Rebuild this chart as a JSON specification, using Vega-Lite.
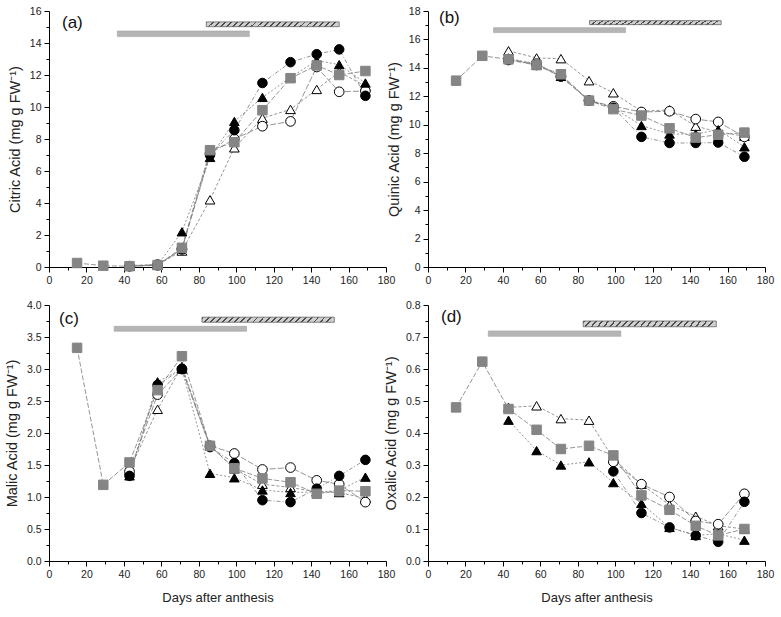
{
"$schema":"https://vega.github.io/schema/vega-lite/v6.json",
"padding":{"left":4,"top":6,"right":4,"bottom":4},
"background":"white",
"config":{"view":{"stroke":null},"font":"Liberation Sans",
 "axis":{"domainColor":"#000","tickColor":"#000","domainWidth":1,"tickWidth":1,"labelFontSize":10.5,"titleFontSize":14.5,"titleFontWeight":"normal","labelColor":"#222","titleColor":"#222","grid":false,"labelPadding":3,"titlePadding":7,"labelOverlap":false,"labelFlush":false},
 "title":{"anchor":"start","frame":"group","fontSize":17,"fontWeight":"normal","color":"#111","font":"Liberation Sans"}
},
"datasets":{
"bars":[
{"p":"a","k":"solid","d":36.5,"d2":107,"v2":14.4,"v":14.75},
{"p":"a","k":"hatch","d":84,"d2":155,"v2":15.02,"v":15.32},
{"p":"b","k":"solid","d":35,"d2":105.5,"v2":16.48,"v":16.83},
{"p":"b","k":"hatch","d":86.3,"d2":156.6,"v2":17.04,"v":17.32},
{"p":"c","k":"solid","d":34.8,"d2":105.5,"v2":3.59,"v":3.667},
{"p":"c","k":"hatch","d":81.7,"d2":152.4,"v2":3.73,"v":3.81},
{"p":"d","k":"solid","d":32.2,"d2":103,"v2":0.702,"v":0.719},
{"p":"d","k":"hatch","d":82.9,"d2":154,"v2":0.732,"v":0.75}
],
"pts":[
{"p":"a","s":"OT","d":43,"v":0.1},{"p":"a","s":"OT","d":58,"v":0.15},{"p":"a","s":"OT","d":71,"v":1.0},{"p":"a","s":"OT","d":86,"v":4.2},{"p":"a","s":"OT","d":99,"v":7.45},{"p":"a","s":"OT","d":114,"v":9.3},{"p":"a","s":"OT","d":129,"v":9.85},{"p":"a","s":"OT","d":143,"v":11.1},{"p":"a","s":"OT","d":155,"v":12.2},{"p":"a","s":"OT","d":169,"v":11.3},
{"p":"a","s":"OC","d":43,"v":0.05},{"p":"a","s":"OC","d":58,"v":0.15},{"p":"a","s":"OC","d":71,"v":1.1},{"p":"a","s":"OC","d":86,"v":7.1},{"p":"a","s":"OC","d":99,"v":8.0},{"p":"a","s":"OC","d":114,"v":8.8},{"p":"a","s":"OC","d":129,"v":9.1},{"p":"a","s":"OC","d":143,"v":12.5},{"p":"a","s":"OC","d":155,"v":10.95},{"p":"a","s":"OC","d":169,"v":11.0},
{"p":"a","s":"BT","d":43,"v":0.05},{"p":"a","s":"BT","d":58,"v":0.12},{"p":"a","s":"BT","d":71,"v":2.2},{"p":"a","s":"BT","d":86,"v":6.85},{"p":"a","s":"BT","d":99,"v":9.1},{"p":"a","s":"BT","d":114,"v":10.6},{"p":"a","s":"BT","d":129,"v":11.85},{"p":"a","s":"BT","d":143,"v":12.9},{"p":"a","s":"BT","d":155,"v":12.65},{"p":"a","s":"BT","d":169,"v":11.5},
{"p":"a","s":"BC","d":43,"v":0.05},{"p":"a","s":"BC","d":58,"v":0.1},{"p":"a","s":"BC","d":71,"v":1.15},{"p":"a","s":"BC","d":86,"v":7.0},{"p":"a","s":"BC","d":99,"v":8.55},{"p":"a","s":"BC","d":114,"v":11.5},{"p":"a","s":"BC","d":129,"v":12.8},{"p":"a","s":"BC","d":143,"v":13.3},{"p":"a","s":"BC","d":155,"v":13.6},{"p":"a","s":"BC","d":169,"v":10.7},
{"p":"a","s":"GS","d":15,"v":0.25},{"p":"a","s":"GS","d":29,"v":0.08},{"p":"a","s":"GS","d":43,"v":0.05},{"p":"a","s":"GS","d":58,"v":0.12},{"p":"a","s":"GS","d":71,"v":1.2},{"p":"a","s":"GS","d":86,"v":7.3},{"p":"a","s":"GS","d":99,"v":7.8},{"p":"a","s":"GS","d":114,"v":9.8},{"p":"a","s":"GS","d":129,"v":11.8},{"p":"a","s":"GS","d":143,"v":12.6},{"p":"a","s":"GS","d":155,"v":12.0},{"p":"a","s":"GS","d":169,"v":12.25},

{"p":"b","s":"OT","d":43,"v":15.2},{"p":"b","s":"OT","d":58,"v":14.7},{"p":"b","s":"OT","d":71,"v":14.65},{"p":"b","s":"OT","d":86,"v":13.1},{"p":"b","s":"OT","d":99,"v":12.25},{"p":"b","s":"OT","d":114,"v":10.95},{"p":"b","s":"OT","d":129,"v":11.05},{"p":"b","s":"OT","d":143,"v":9.9},{"p":"b","s":"OT","d":155,"v":9.5},{"p":"b","s":"OT","d":169,"v":9.2},
{"p":"b","s":"OC","d":43,"v":14.6},{"p":"b","s":"OC","d":58,"v":14.3},{"p":"b","s":"OC","d":71,"v":13.4},{"p":"b","s":"OC","d":86,"v":11.7},{"p":"b","s":"OC","d":99,"v":11.3},{"p":"b","s":"OC","d":114,"v":10.9},{"p":"b","s":"OC","d":129,"v":10.95},{"p":"b","s":"OC","d":143,"v":10.4},{"p":"b","s":"OC","d":155,"v":10.2},{"p":"b","s":"OC","d":169,"v":9.15},
{"p":"b","s":"BT","d":43,"v":14.7},{"p":"b","s":"BT","d":58,"v":14.2},{"p":"b","s":"BT","d":71,"v":13.4},{"p":"b","s":"BT","d":86,"v":11.75},{"p":"b","s":"BT","d":99,"v":11.2},{"p":"b","s":"BT","d":114,"v":9.95},{"p":"b","s":"BT","d":129,"v":9.35},{"p":"b","s":"BT","d":143,"v":9.35},{"p":"b","s":"BT","d":155,"v":9.65},{"p":"b","s":"BT","d":169,"v":8.45},
{"p":"b","s":"BC","d":43,"v":14.55},{"p":"b","s":"BC","d":58,"v":14.2},{"p":"b","s":"BC","d":71,"v":13.4},{"p":"b","s":"BC","d":86,"v":11.7},{"p":"b","s":"BC","d":99,"v":11.2},{"p":"b","s":"BC","d":114,"v":9.15},{"p":"b","s":"BC","d":129,"v":8.72},{"p":"b","s":"BC","d":143,"v":8.72},{"p":"b","s":"BC","d":155,"v":8.75},{"p":"b","s":"BC","d":169,"v":7.75},
{"p":"b","s":"GS","d":15,"v":13.1},{"p":"b","s":"GS","d":29,"v":14.85},{"p":"b","s":"GS","d":43,"v":14.6},{"p":"b","s":"GS","d":58,"v":14.2},{"p":"b","s":"GS","d":71,"v":13.55},{"p":"b","s":"GS","d":86,"v":11.7},{"p":"b","s":"GS","d":99,"v":11.1},{"p":"b","s":"GS","d":114,"v":10.65},{"p":"b","s":"GS","d":129,"v":9.75},{"p":"b","s":"GS","d":143,"v":9.1},{"p":"b","s":"GS","d":155,"v":9.3},{"p":"b","s":"GS","d":169,"v":9.45},

{"p":"c","s":"OT","d":43,"v":1.42},{"p":"c","s":"OT","d":58,"v":2.37},{"p":"c","s":"OT","d":71,"v":3.04},{"p":"c","s":"OT","d":86,"v":1.8},{"p":"c","s":"OT","d":99,"v":1.44},{"p":"c","s":"OT","d":114,"v":1.2},{"p":"c","s":"OT","d":129,"v":1.15},{"p":"c","s":"OT","d":143,"v":1.08},{"p":"c","s":"OT","d":155,"v":1.07},{"p":"c","s":"OT","d":169,"v":0.98},
{"p":"c","s":"OC","d":43,"v":1.4},{"p":"c","s":"OC","d":58,"v":2.6},{"p":"c","s":"OC","d":71,"v":3.0},{"p":"c","s":"OC","d":86,"v":1.8},{"p":"c","s":"OC","d":99,"v":1.68},{"p":"c","s":"OC","d":114,"v":1.43},{"p":"c","s":"OC","d":129,"v":1.46},{"p":"c","s":"OC","d":143,"v":1.26},{"p":"c","s":"OC","d":155,"v":1.2},{"p":"c","s":"OC","d":169,"v":0.92},
{"p":"c","s":"BT","d":43,"v":1.33},{"p":"c","s":"BT","d":58,"v":2.8},{"p":"c","s":"BT","d":71,"v":3.0},{"p":"c","s":"BT","d":86,"v":1.37},{"p":"c","s":"BT","d":99,"v":1.3},{"p":"c","s":"BT","d":114,"v":1.11},{"p":"c","s":"BT","d":129,"v":1.07},{"p":"c","s":"BT","d":143,"v":1.08},{"p":"c","s":"BT","d":155,"v":1.1},{"p":"c","s":"BT","d":169,"v":1.31},
{"p":"c","s":"BC","d":43,"v":1.33},{"p":"c","s":"BC","d":58,"v":2.75},{"p":"c","s":"BC","d":71,"v":3.0},{"p":"c","s":"BC","d":86,"v":1.78},{"p":"c","s":"BC","d":99,"v":1.53},{"p":"c","s":"BC","d":114,"v":0.95},{"p":"c","s":"BC","d":129,"v":0.92},{"p":"c","s":"BC","d":143,"v":1.13},{"p":"c","s":"BC","d":155,"v":1.33},{"p":"c","s":"BC","d":169,"v":1.58},
{"p":"c","s":"GS","d":15,"v":3.33},{"p":"c","s":"GS","d":29,"v":1.19},{"p":"c","s":"GS","d":43,"v":1.54},{"p":"c","s":"GS","d":58,"v":2.67},{"p":"c","s":"GS","d":71,"v":3.2},{"p":"c","s":"GS","d":86,"v":1.8},{"p":"c","s":"GS","d":99,"v":1.45},{"p":"c","s":"GS","d":114,"v":1.29},{"p":"c","s":"GS","d":129,"v":1.23},{"p":"c","s":"GS","d":143,"v":1.05},{"p":"c","s":"GS","d":155,"v":1.1},{"p":"c","s":"GS","d":169,"v":1.09},

{"p":"d","s":"OT","d":43,"v":0.48},{"p":"d","s":"OT","d":58,"v":0.485},{"p":"d","s":"OT","d":71,"v":0.445},{"p":"d","s":"OT","d":86,"v":0.44},{"p":"d","s":"OT","d":99,"v":0.32},{"p":"d","s":"OT","d":114,"v":0.24},{"p":"d","s":"OT","d":129,"v":0.175},{"p":"d","s":"OT","d":143,"v":0.14},{"p":"d","s":"OT","d":155,"v":0.11},{"p":"d","s":"OT","d":169,"v":0.1},
{"p":"d","s":"OC","d":99,"v":0.31},{"p":"d","s":"OC","d":114,"v":0.24},{"p":"d","s":"OC","d":129,"v":0.2},{"p":"d","s":"OC","d":143,"v":0.125},{"p":"d","s":"OC","d":155,"v":0.115},{"p":"d","s":"OC","d":169,"v":0.21},
{"p":"d","s":"BT","d":43,"v":0.44},{"p":"d","s":"BT","d":58,"v":0.345},{"p":"d","s":"BT","d":71,"v":0.3},{"p":"d","s":"BT","d":86,"v":0.31},{"p":"d","s":"BT","d":99,"v":0.245},{"p":"d","s":"BT","d":114,"v":0.18},{"p":"d","s":"BT","d":129,"v":0.105},{"p":"d","s":"BT","d":143,"v":0.08},{"p":"d","s":"BT","d":155,"v":0.085},{"p":"d","s":"BT","d":169,"v":0.065},
{"p":"d","s":"BC","d":99,"v":0.28},{"p":"d","s":"BC","d":114,"v":0.15},{"p":"d","s":"BC","d":129,"v":0.105},{"p":"d","s":"BC","d":143,"v":0.08},{"p":"d","s":"BC","d":155,"v":0.06},{"p":"d","s":"BC","d":169,"v":0.185},
{"p":"d","s":"GS","d":15,"v":0.48},{"p":"d","s":"GS","d":29,"v":0.623},{"p":"d","s":"GS","d":43,"v":0.475},{"p":"d","s":"GS","d":58,"v":0.41},{"p":"d","s":"GS","d":71,"v":0.35},{"p":"d","s":"GS","d":86,"v":0.36},{"p":"d","s":"GS","d":99,"v":0.33},{"p":"d","s":"GS","d":114,"v":0.205},{"p":"d","s":"GS","d":129,"v":0.16},{"p":"d","s":"GS","d":143,"v":0.11},{"p":"d","s":"GS","d":155,"v":0.08},{"p":"d","s":"GS","d":169,"v":0.1}
]
},
"columns":2,
"spacing":{"row":14,"column":-12},
"concat":[
{"width":337,"height":256,
 "title":{"text":"(a)","offset":-26,"dx":13},
 "encoding":{"x":{"field":"d","type":"quantitative","scale":{"domain":[0,180],"nice":false},
    "axis":{"title":null,"values":[0,10,20,30,40,50,60,70,80,90,100,110,120,130,140,150,160,170,180],"labelExpr":"datum.value % 20 === 0 ? datum.label : ''","tickSize":{"condition":{"test":"datum.value % 20 === 0","value":5},"value":3}}},
   "y":{"field":"v","type":"quantitative","scale":{"domain":[0,16],"nice":false},
    "axis":{"title":"Citric Acid (mg g FW⁻¹)","values":[0,1,2,3,4,5,6,7,8,9,10,11,12,13,14,15,16],"labelExpr":"datum.value % 2 === 0 ? datum.label : ''","tickSize":{"condition":{"test":"datum.value % 2 === 0","value":5},"value":3}}}},
 "layer":[
 {"data":{"name":"bars"},"transform":[{"filter":"datum.p==='a' && datum.k==='solid'"}],"mark":{"type":"rect","fill":"#b5b5b5","stroke":"#a3a3a3","strokeWidth":0.6},
  "encoding":{"x2":{"field":"d2"},"y2":{"field":"v2"}}},
 {"data":{"name":"bars"},"transform":[{"filter":"datum.p==='a' && datum.k==='hatch'"}],"mark":{"type":"rect","stroke":"#555","strokeWidth":0.7,"fill":{"gradient":"linear","x1":0,"y1":0,"x2":1,"y2":0.0376,"stops":[
{"offset":0,"color":"#4d4d4d"},{"offset":0.014,"color":"#4d4d4d"},{"offset":0.014,"color":"#d0d0d0"},
{"offset":0.046,"color":"#d0d0d0"},{"offset":0.046,"color":"#4d4d4d"},{"offset":0.06,"color":"#4d4d4d"},{"offset":0.06,"color":"#d0d0d0"},
{"offset":0.092,"color":"#d0d0d0"},{"offset":0.092,"color":"#4d4d4d"},{"offset":0.106,"color":"#4d4d4d"},{"offset":0.106,"color":"#d0d0d0"},
{"offset":0.138,"color":"#d0d0d0"},{"offset":0.138,"color":"#4d4d4d"},{"offset":0.152,"color":"#4d4d4d"},{"offset":0.152,"color":"#d0d0d0"},
{"offset":0.184,"color":"#d0d0d0"},{"offset":0.184,"color":"#4d4d4d"},{"offset":0.198,"color":"#4d4d4d"},{"offset":0.198,"color":"#d0d0d0"},
{"offset":0.23,"color":"#d0d0d0"},{"offset":0.23,"color":"#4d4d4d"},{"offset":0.244,"color":"#4d4d4d"},{"offset":0.244,"color":"#d0d0d0"},
{"offset":0.276,"color":"#d0d0d0"},{"offset":0.276,"color":"#4d4d4d"},{"offset":0.29,"color":"#4d4d4d"},{"offset":0.29,"color":"#d0d0d0"},
{"offset":0.322,"color":"#d0d0d0"},{"offset":0.322,"color":"#4d4d4d"},{"offset":0.336,"color":"#4d4d4d"},{"offset":0.336,"color":"#d0d0d0"},
{"offset":0.368,"color":"#d0d0d0"},{"offset":0.368,"color":"#4d4d4d"},{"offset":0.382,"color":"#4d4d4d"},{"offset":0.382,"color":"#d0d0d0"},
{"offset":0.414,"color":"#d0d0d0"},{"offset":0.414,"color":"#4d4d4d"},{"offset":0.428,"color":"#4d4d4d"},{"offset":0.428,"color":"#d0d0d0"},
{"offset":0.46,"color":"#d0d0d0"},{"offset":0.46,"color":"#4d4d4d"},{"offset":0.474,"color":"#4d4d4d"},{"offset":0.474,"color":"#d0d0d0"},
{"offset":0.506,"color":"#d0d0d0"},{"offset":0.506,"color":"#4d4d4d"},{"offset":0.52,"color":"#4d4d4d"},{"offset":0.52,"color":"#d0d0d0"},
{"offset":0.552,"color":"#d0d0d0"},{"offset":0.552,"color":"#4d4d4d"},{"offset":0.566,"color":"#4d4d4d"},{"offset":0.566,"color":"#d0d0d0"},
{"offset":0.598,"color":"#d0d0d0"},{"offset":0.598,"color":"#4d4d4d"},{"offset":0.612,"color":"#4d4d4d"},{"offset":0.612,"color":"#d0d0d0"},
{"offset":0.644,"color":"#d0d0d0"},{"offset":0.644,"color":"#4d4d4d"},{"offset":0.658,"color":"#4d4d4d"},{"offset":0.658,"color":"#d0d0d0"},
{"offset":0.69,"color":"#d0d0d0"},{"offset":0.69,"color":"#4d4d4d"},{"offset":0.704,"color":"#4d4d4d"},{"offset":0.704,"color":"#d0d0d0"},
{"offset":0.736,"color":"#d0d0d0"},{"offset":0.736,"color":"#4d4d4d"},{"offset":0.75,"color":"#4d4d4d"},{"offset":0.75,"color":"#d0d0d0"},
{"offset":0.782,"color":"#d0d0d0"},{"offset":0.782,"color":"#4d4d4d"},{"offset":0.796,"color":"#4d4d4d"},{"offset":0.796,"color":"#d0d0d0"},
{"offset":0.828,"color":"#d0d0d0"},{"offset":0.828,"color":"#4d4d4d"},{"offset":0.842,"color":"#4d4d4d"},{"offset":0.842,"color":"#d0d0d0"},
{"offset":0.874,"color":"#d0d0d0"},{"offset":0.874,"color":"#4d4d4d"},{"offset":0.888,"color":"#4d4d4d"},{"offset":0.888,"color":"#d0d0d0"},
{"offset":0.92,"color":"#d0d0d0"},{"offset":0.92,"color":"#4d4d4d"},{"offset":0.934,"color":"#4d4d4d"},{"offset":0.934,"color":"#d0d0d0"},
{"offset":0.966,"color":"#d0d0d0"},{"offset":0.966,"color":"#4d4d4d"},{"offset":0.98,"color":"#4d4d4d"},{"offset":0.98,"color":"#d0d0d0"},
{"offset":1,"color":"#d0d0d0"}]}},
  "encoding":{"x2":{"field":"d2"},"y2":{"field":"v2"}}},
 {"data":{"name":"pts"},"transform":[{"filter":"datum.p==='a'"}],"mark":{"type":"line","strokeWidth":0.8,"color":"#7a7a7a"},
  "encoding":{"detail":{"field":"s"},
   "strokeDash":{"field":"s","scale":{"domain":["OT","OC","BT","BC","GS"],"range":[[3,2],[6,2],[2,2],[4,2,1,2],[5,2]]},"legend":null}}},
 {"data":{"name":"pts"},"transform":[{"filter":"datum.p==='a'"}],"mark":{"type":"point","filled":true,"opacity":1,"strokeWidth":1},
  "encoding":{
   "shape":{"field":"s","scale":{"domain":["OT","OC","BT","BC","GS"],"range":["triangle-up","circle","triangle-up","circle","square"]},"legend":null},
   "size":{"field":"s","scale":{"domain":["OT","OC","BT","BC","GS"],"range":[95,90,95,90,70]},"legend":null},
   "fill":{"field":"s","scale":{"domain":["OT","OC","BT","BC","GS"],"range":["white","white","black","black","#858585"]},"legend":null},
   "stroke":{"field":"s","scale":{"domain":["OT","OC","BT","BC","GS"],"range":["black","black","black","black","#858585"]},"legend":null}}}
]},
{"width":337,"height":256,
 "title":{"text":"(b)","offset":-21,"dx":11},
 "encoding":{"x":{"field":"d","type":"quantitative","scale":{"domain":[0,180],"nice":false},
    "axis":{"title":null,"values":[0,10,20,30,40,50,60,70,80,90,100,110,120,130,140,150,160,170,180],"labelExpr":"datum.value % 20 === 0 ? datum.label : ''","tickSize":{"condition":{"test":"datum.value % 20 === 0","value":5},"value":3}}},
   "y":{"field":"v","type":"quantitative","scale":{"domain":[0,18],"nice":false},
    "axis":{"title":"Quinic Acid (mg g FW⁻¹)","values":[0,1,2,3,4,5,6,7,8,9,10,11,12,13,14,15,16,17,18],"labelExpr":"datum.value % 2 === 0 ? datum.label : ''","tickSize":{"condition":{"test":"datum.value % 2 === 0","value":5},"value":3}}}},
 "layer":[
 {"data":{"name":"bars"},"transform":[{"filter":"datum.p==='b' && datum.k==='solid'"}],"mark":{"type":"rect","fill":"#b5b5b5","stroke":"#a3a3a3","strokeWidth":0.6},
  "encoding":{"x2":{"field":"d2"},"y2":{"field":"v2"}}},
 {"data":{"name":"bars"},"transform":[{"filter":"datum.p==='b' && datum.k==='hatch'"}],"mark":{"type":"rect","stroke":"#555","strokeWidth":0.7,"fill":{"gradient":"linear","x1":0,"y1":0,"x2":1,"y2":0.0376,"stops":[
{"offset":0,"color":"#4d4d4d"},{"offset":0.014,"color":"#4d4d4d"},{"offset":0.014,"color":"#d0d0d0"},
{"offset":0.046,"color":"#d0d0d0"},{"offset":0.046,"color":"#4d4d4d"},{"offset":0.06,"color":"#4d4d4d"},{"offset":0.06,"color":"#d0d0d0"},
{"offset":0.092,"color":"#d0d0d0"},{"offset":0.092,"color":"#4d4d4d"},{"offset":0.106,"color":"#4d4d4d"},{"offset":0.106,"color":"#d0d0d0"},
{"offset":0.138,"color":"#d0d0d0"},{"offset":0.138,"color":"#4d4d4d"},{"offset":0.152,"color":"#4d4d4d"},{"offset":0.152,"color":"#d0d0d0"},
{"offset":0.184,"color":"#d0d0d0"},{"offset":0.184,"color":"#4d4d4d"},{"offset":0.198,"color":"#4d4d4d"},{"offset":0.198,"color":"#d0d0d0"},
{"offset":0.23,"color":"#d0d0d0"},{"offset":0.23,"color":"#4d4d4d"},{"offset":0.244,"color":"#4d4d4d"},{"offset":0.244,"color":"#d0d0d0"},
{"offset":0.276,"color":"#d0d0d0"},{"offset":0.276,"color":"#4d4d4d"},{"offset":0.29,"color":"#4d4d4d"},{"offset":0.29,"color":"#d0d0d0"},
{"offset":0.322,"color":"#d0d0d0"},{"offset":0.322,"color":"#4d4d4d"},{"offset":0.336,"color":"#4d4d4d"},{"offset":0.336,"color":"#d0d0d0"},
{"offset":0.368,"color":"#d0d0d0"},{"offset":0.368,"color":"#4d4d4d"},{"offset":0.382,"color":"#4d4d4d"},{"offset":0.382,"color":"#d0d0d0"},
{"offset":0.414,"color":"#d0d0d0"},{"offset":0.414,"color":"#4d4d4d"},{"offset":0.428,"color":"#4d4d4d"},{"offset":0.428,"color":"#d0d0d0"},
{"offset":0.46,"color":"#d0d0d0"},{"offset":0.46,"color":"#4d4d4d"},{"offset":0.474,"color":"#4d4d4d"},{"offset":0.474,"color":"#d0d0d0"},
{"offset":0.506,"color":"#d0d0d0"},{"offset":0.506,"color":"#4d4d4d"},{"offset":0.52,"color":"#4d4d4d"},{"offset":0.52,"color":"#d0d0d0"},
{"offset":0.552,"color":"#d0d0d0"},{"offset":0.552,"color":"#4d4d4d"},{"offset":0.566,"color":"#4d4d4d"},{"offset":0.566,"color":"#d0d0d0"},
{"offset":0.598,"color":"#d0d0d0"},{"offset":0.598,"color":"#4d4d4d"},{"offset":0.612,"color":"#4d4d4d"},{"offset":0.612,"color":"#d0d0d0"},
{"offset":0.644,"color":"#d0d0d0"},{"offset":0.644,"color":"#4d4d4d"},{"offset":0.658,"color":"#4d4d4d"},{"offset":0.658,"color":"#d0d0d0"},
{"offset":0.69,"color":"#d0d0d0"},{"offset":0.69,"color":"#4d4d4d"},{"offset":0.704,"color":"#4d4d4d"},{"offset":0.704,"color":"#d0d0d0"},
{"offset":0.736,"color":"#d0d0d0"},{"offset":0.736,"color":"#4d4d4d"},{"offset":0.75,"color":"#4d4d4d"},{"offset":0.75,"color":"#d0d0d0"},
{"offset":0.782,"color":"#d0d0d0"},{"offset":0.782,"color":"#4d4d4d"},{"offset":0.796,"color":"#4d4d4d"},{"offset":0.796,"color":"#d0d0d0"},
{"offset":0.828,"color":"#d0d0d0"},{"offset":0.828,"color":"#4d4d4d"},{"offset":0.842,"color":"#4d4d4d"},{"offset":0.842,"color":"#d0d0d0"},
{"offset":0.874,"color":"#d0d0d0"},{"offset":0.874,"color":"#4d4d4d"},{"offset":0.888,"color":"#4d4d4d"},{"offset":0.888,"color":"#d0d0d0"},
{"offset":0.92,"color":"#d0d0d0"},{"offset":0.92,"color":"#4d4d4d"},{"offset":0.934,"color":"#4d4d4d"},{"offset":0.934,"color":"#d0d0d0"},
{"offset":0.966,"color":"#d0d0d0"},{"offset":0.966,"color":"#4d4d4d"},{"offset":0.98,"color":"#4d4d4d"},{"offset":0.98,"color":"#d0d0d0"},
{"offset":1,"color":"#d0d0d0"}]}},
  "encoding":{"x2":{"field":"d2"},"y2":{"field":"v2"}}},
 {"data":{"name":"pts"},"transform":[{"filter":"datum.p==='b'"}],"mark":{"type":"line","strokeWidth":0.8,"color":"#7a7a7a"},
  "encoding":{"detail":{"field":"s"},
   "strokeDash":{"field":"s","scale":{"domain":["OT","OC","BT","BC","GS"],"range":[[3,2],[6,2],[2,2],[4,2,1,2],[5,2]]},"legend":null}}},
 {"data":{"name":"pts"},"transform":[{"filter":"datum.p==='b'"}],"mark":{"type":"point","filled":true,"opacity":1,"strokeWidth":1},
  "encoding":{
   "shape":{"field":"s","scale":{"domain":["OT","OC","BT","BC","GS"],"range":["triangle-up","circle","triangle-up","circle","square"]},"legend":null},
   "size":{"field":"s","scale":{"domain":["OT","OC","BT","BC","GS"],"range":[95,90,95,90,70]},"legend":null},
   "fill":{"field":"s","scale":{"domain":["OT","OC","BT","BC","GS"],"range":["white","white","black","black","#858585"]},"legend":null},
   "stroke":{"field":"s","scale":{"domain":["OT","OC","BT","BC","GS"],"range":["black","black","black","black","#858585"]},"legend":null}}}
]},
{"width":337,"height":256,
 "title":{"text":"(c)","offset":-28,"dx":10},
 "encoding":{"x":{"field":"d","type":"quantitative","scale":{"domain":[0,180],"nice":false},
    "axis":{"title":"Days after anthesis","titlePadding":12,"titleFontSize":13,"values":[0,10,20,30,40,50,60,70,80,90,100,110,120,130,140,150,160,170,180],"labelExpr":"datum.value % 20 === 0 ? datum.label : ''","tickSize":{"condition":{"test":"datum.value % 20 === 0","value":5},"value":3}}},
   "y":{"field":"v","type":"quantitative","scale":{"domain":[0,4],"nice":false},
    "axis":{"title":"Malic Acid (mg g FW⁻¹)","format":".1f","values":[0,0.25,0.5,0.75,1,1.25,1.5,1.75,2,2.25,2.5,2.75,3,3.25,3.5,3.75,4],"labelExpr":"abs(datum.value*2-round(datum.value*2))<1e-6 ? datum.label : ''","tickSize":{"condition":{"test":"abs(datum.value*2-round(datum.value*2))<1e-6","value":5},"value":3}}}},
 "layer":[
 {"data":{"name":"bars"},"transform":[{"filter":"datum.p==='c' && datum.k==='solid'"}],"mark":{"type":"rect","fill":"#b5b5b5","stroke":"#a3a3a3","strokeWidth":0.6},
  "encoding":{"x2":{"field":"d2"},"y2":{"field":"v2"}}},
 {"data":{"name":"bars"},"transform":[{"filter":"datum.p==='c' && datum.k==='hatch'"}],"mark":{"type":"rect","stroke":"#555","strokeWidth":0.7,"fill":{"gradient":"linear","x1":0,"y1":0,"x2":1,"y2":0.0376,"stops":[
{"offset":0,"color":"#4d4d4d"},{"offset":0.014,"color":"#4d4d4d"},{"offset":0.014,"color":"#d0d0d0"},
{"offset":0.046,"color":"#d0d0d0"},{"offset":0.046,"color":"#4d4d4d"},{"offset":0.06,"color":"#4d4d4d"},{"offset":0.06,"color":"#d0d0d0"},
{"offset":0.092,"color":"#d0d0d0"},{"offset":0.092,"color":"#4d4d4d"},{"offset":0.106,"color":"#4d4d4d"},{"offset":0.106,"color":"#d0d0d0"},
{"offset":0.138,"color":"#d0d0d0"},{"offset":0.138,"color":"#4d4d4d"},{"offset":0.152,"color":"#4d4d4d"},{"offset":0.152,"color":"#d0d0d0"},
{"offset":0.184,"color":"#d0d0d0"},{"offset":0.184,"color":"#4d4d4d"},{"offset":0.198,"color":"#4d4d4d"},{"offset":0.198,"color":"#d0d0d0"},
{"offset":0.23,"color":"#d0d0d0"},{"offset":0.23,"color":"#4d4d4d"},{"offset":0.244,"color":"#4d4d4d"},{"offset":0.244,"color":"#d0d0d0"},
{"offset":0.276,"color":"#d0d0d0"},{"offset":0.276,"color":"#4d4d4d"},{"offset":0.29,"color":"#4d4d4d"},{"offset":0.29,"color":"#d0d0d0"},
{"offset":0.322,"color":"#d0d0d0"},{"offset":0.322,"color":"#4d4d4d"},{"offset":0.336,"color":"#4d4d4d"},{"offset":0.336,"color":"#d0d0d0"},
{"offset":0.368,"color":"#d0d0d0"},{"offset":0.368,"color":"#4d4d4d"},{"offset":0.382,"color":"#4d4d4d"},{"offset":0.382,"color":"#d0d0d0"},
{"offset":0.414,"color":"#d0d0d0"},{"offset":0.414,"color":"#4d4d4d"},{"offset":0.428,"color":"#4d4d4d"},{"offset":0.428,"color":"#d0d0d0"},
{"offset":0.46,"color":"#d0d0d0"},{"offset":0.46,"color":"#4d4d4d"},{"offset":0.474,"color":"#4d4d4d"},{"offset":0.474,"color":"#d0d0d0"},
{"offset":0.506,"color":"#d0d0d0"},{"offset":0.506,"color":"#4d4d4d"},{"offset":0.52,"color":"#4d4d4d"},{"offset":0.52,"color":"#d0d0d0"},
{"offset":0.552,"color":"#d0d0d0"},{"offset":0.552,"color":"#4d4d4d"},{"offset":0.566,"color":"#4d4d4d"},{"offset":0.566,"color":"#d0d0d0"},
{"offset":0.598,"color":"#d0d0d0"},{"offset":0.598,"color":"#4d4d4d"},{"offset":0.612,"color":"#4d4d4d"},{"offset":0.612,"color":"#d0d0d0"},
{"offset":0.644,"color":"#d0d0d0"},{"offset":0.644,"color":"#4d4d4d"},{"offset":0.658,"color":"#4d4d4d"},{"offset":0.658,"color":"#d0d0d0"},
{"offset":0.69,"color":"#d0d0d0"},{"offset":0.69,"color":"#4d4d4d"},{"offset":0.704,"color":"#4d4d4d"},{"offset":0.704,"color":"#d0d0d0"},
{"offset":0.736,"color":"#d0d0d0"},{"offset":0.736,"color":"#4d4d4d"},{"offset":0.75,"color":"#4d4d4d"},{"offset":0.75,"color":"#d0d0d0"},
{"offset":0.782,"color":"#d0d0d0"},{"offset":0.782,"color":"#4d4d4d"},{"offset":0.796,"color":"#4d4d4d"},{"offset":0.796,"color":"#d0d0d0"},
{"offset":0.828,"color":"#d0d0d0"},{"offset":0.828,"color":"#4d4d4d"},{"offset":0.842,"color":"#4d4d4d"},{"offset":0.842,"color":"#d0d0d0"},
{"offset":0.874,"color":"#d0d0d0"},{"offset":0.874,"color":"#4d4d4d"},{"offset":0.888,"color":"#4d4d4d"},{"offset":0.888,"color":"#d0d0d0"},
{"offset":0.92,"color":"#d0d0d0"},{"offset":0.92,"color":"#4d4d4d"},{"offset":0.934,"color":"#4d4d4d"},{"offset":0.934,"color":"#d0d0d0"},
{"offset":0.966,"color":"#d0d0d0"},{"offset":0.966,"color":"#4d4d4d"},{"offset":0.98,"color":"#4d4d4d"},{"offset":0.98,"color":"#d0d0d0"},
{"offset":1,"color":"#d0d0d0"}]}},
  "encoding":{"x2":{"field":"d2"},"y2":{"field":"v2"}}},
 {"data":{"name":"pts"},"transform":[{"filter":"datum.p==='c'"}],"mark":{"type":"line","strokeWidth":0.8,"color":"#7a7a7a"},
  "encoding":{"detail":{"field":"s"},
   "strokeDash":{"field":"s","scale":{"domain":["OT","OC","BT","BC","GS"],"range":[[3,2],[6,2],[2,2],[4,2,1,2],[5,2]]},"legend":null}}},
 {"data":{"name":"pts"},"transform":[{"filter":"datum.p==='c'"}],"mark":{"type":"point","filled":true,"opacity":1,"strokeWidth":1},
  "encoding":{
   "shape":{"field":"s","scale":{"domain":["OT","OC","BT","BC","GS"],"range":["triangle-up","circle","triangle-up","circle","square"]},"legend":null},
   "size":{"field":"s","scale":{"domain":["OT","OC","BT","BC","GS"],"range":[95,90,95,90,70]},"legend":null},
   "fill":{"field":"s","scale":{"domain":["OT","OC","BT","BC","GS"],"range":["white","white","black","black","#858585"]},"legend":null},
   "stroke":{"field":"s","scale":{"domain":["OT","OC","BT","BC","GS"],"range":["black","black","black","black","#858585"]},"legend":null}}}
]},
{"width":337,"height":256,
 "title":{"text":"(d)","offset":-26,"dx":13},
 "encoding":{"x":{"field":"d","type":"quantitative","scale":{"domain":[0,180],"nice":false},
    "axis":{"title":"Days after anthesis","titlePadding":12,"titleFontSize":13,"values":[0,10,20,30,40,50,60,70,80,90,100,110,120,130,140,150,160,170,180],"labelExpr":"datum.value % 20 === 0 ? datum.label : ''","tickSize":{"condition":{"test":"datum.value % 20 === 0","value":5},"value":3}}},
   "y":{"field":"v","type":"quantitative","scale":{"domain":[0,0.8],"nice":false},
    "axis":{"title":"Oxalic Acid (mg g FW⁻¹)","format":".1f","values":[0,0.05,0.1,0.15,0.2,0.25,0.3,0.35,0.4,0.45,0.5,0.55,0.6,0.65,0.7,0.75,0.8],"labelExpr":"abs(datum.value*10-round(datum.value*10))<1e-6 ? datum.label : ''","tickSize":{"condition":{"test":"abs(datum.value*10-round(datum.value*10))<1e-6","value":5},"value":3}}}},
 "layer":[
 {"data":{"name":"bars"},"transform":[{"filter":"datum.p==='d' && datum.k==='solid'"}],"mark":{"type":"rect","fill":"#b5b5b5","stroke":"#a3a3a3","strokeWidth":0.6},
  "encoding":{"x2":{"field":"d2"},"y2":{"field":"v2"}}},
 {"data":{"name":"bars"},"transform":[{"filter":"datum.p==='d' && datum.k==='hatch'"}],"mark":{"type":"rect","stroke":"#555","strokeWidth":0.7,"fill":{"gradient":"linear","x1":0,"y1":0,"x2":1,"y2":0.0376,"stops":[
{"offset":0,"color":"#4d4d4d"},{"offset":0.014,"color":"#4d4d4d"},{"offset":0.014,"color":"#d0d0d0"},
{"offset":0.046,"color":"#d0d0d0"},{"offset":0.046,"color":"#4d4d4d"},{"offset":0.06,"color":"#4d4d4d"},{"offset":0.06,"color":"#d0d0d0"},
{"offset":0.092,"color":"#d0d0d0"},{"offset":0.092,"color":"#4d4d4d"},{"offset":0.106,"color":"#4d4d4d"},{"offset":0.106,"color":"#d0d0d0"},
{"offset":0.138,"color":"#d0d0d0"},{"offset":0.138,"color":"#4d4d4d"},{"offset":0.152,"color":"#4d4d4d"},{"offset":0.152,"color":"#d0d0d0"},
{"offset":0.184,"color":"#d0d0d0"},{"offset":0.184,"color":"#4d4d4d"},{"offset":0.198,"color":"#4d4d4d"},{"offset":0.198,"color":"#d0d0d0"},
{"offset":0.23,"color":"#d0d0d0"},{"offset":0.23,"color":"#4d4d4d"},{"offset":0.244,"color":"#4d4d4d"},{"offset":0.244,"color":"#d0d0d0"},
{"offset":0.276,"color":"#d0d0d0"},{"offset":0.276,"color":"#4d4d4d"},{"offset":0.29,"color":"#4d4d4d"},{"offset":0.29,"color":"#d0d0d0"},
{"offset":0.322,"color":"#d0d0d0"},{"offset":0.322,"color":"#4d4d4d"},{"offset":0.336,"color":"#4d4d4d"},{"offset":0.336,"color":"#d0d0d0"},
{"offset":0.368,"color":"#d0d0d0"},{"offset":0.368,"color":"#4d4d4d"},{"offset":0.382,"color":"#4d4d4d"},{"offset":0.382,"color":"#d0d0d0"},
{"offset":0.414,"color":"#d0d0d0"},{"offset":0.414,"color":"#4d4d4d"},{"offset":0.428,"color":"#4d4d4d"},{"offset":0.428,"color":"#d0d0d0"},
{"offset":0.46,"color":"#d0d0d0"},{"offset":0.46,"color":"#4d4d4d"},{"offset":0.474,"color":"#4d4d4d"},{"offset":0.474,"color":"#d0d0d0"},
{"offset":0.506,"color":"#d0d0d0"},{"offset":0.506,"color":"#4d4d4d"},{"offset":0.52,"color":"#4d4d4d"},{"offset":0.52,"color":"#d0d0d0"},
{"offset":0.552,"color":"#d0d0d0"},{"offset":0.552,"color":"#4d4d4d"},{"offset":0.566,"color":"#4d4d4d"},{"offset":0.566,"color":"#d0d0d0"},
{"offset":0.598,"color":"#d0d0d0"},{"offset":0.598,"color":"#4d4d4d"},{"offset":0.612,"color":"#4d4d4d"},{"offset":0.612,"color":"#d0d0d0"},
{"offset":0.644,"color":"#d0d0d0"},{"offset":0.644,"color":"#4d4d4d"},{"offset":0.658,"color":"#4d4d4d"},{"offset":0.658,"color":"#d0d0d0"},
{"offset":0.69,"color":"#d0d0d0"},{"offset":0.69,"color":"#4d4d4d"},{"offset":0.704,"color":"#4d4d4d"},{"offset":0.704,"color":"#d0d0d0"},
{"offset":0.736,"color":"#d0d0d0"},{"offset":0.736,"color":"#4d4d4d"},{"offset":0.75,"color":"#4d4d4d"},{"offset":0.75,"color":"#d0d0d0"},
{"offset":0.782,"color":"#d0d0d0"},{"offset":0.782,"color":"#4d4d4d"},{"offset":0.796,"color":"#4d4d4d"},{"offset":0.796,"color":"#d0d0d0"},
{"offset":0.828,"color":"#d0d0d0"},{"offset":0.828,"color":"#4d4d4d"},{"offset":0.842,"color":"#4d4d4d"},{"offset":0.842,"color":"#d0d0d0"},
{"offset":0.874,"color":"#d0d0d0"},{"offset":0.874,"color":"#4d4d4d"},{"offset":0.888,"color":"#4d4d4d"},{"offset":0.888,"color":"#d0d0d0"},
{"offset":0.92,"color":"#d0d0d0"},{"offset":0.92,"color":"#4d4d4d"},{"offset":0.934,"color":"#4d4d4d"},{"offset":0.934,"color":"#d0d0d0"},
{"offset":0.966,"color":"#d0d0d0"},{"offset":0.966,"color":"#4d4d4d"},{"offset":0.98,"color":"#4d4d4d"},{"offset":0.98,"color":"#d0d0d0"},
{"offset":1,"color":"#d0d0d0"}]}},
  "encoding":{"x2":{"field":"d2"},"y2":{"field":"v2"}}},
 {"data":{"name":"pts"},"transform":[{"filter":"datum.p==='d'"}],"mark":{"type":"line","strokeWidth":0.8,"color":"#7a7a7a"},
  "encoding":{"detail":{"field":"s"},
   "strokeDash":{"field":"s","scale":{"domain":["OT","OC","BT","BC","GS"],"range":[[3,2],[6,2],[2,2],[4,2,1,2],[5,2]]},"legend":null}}},
 {"data":{"name":"pts"},"transform":[{"filter":"datum.p==='d'"}],"mark":{"type":"point","filled":true,"opacity":1,"strokeWidth":1},
  "encoding":{
   "shape":{"field":"s","scale":{"domain":["OT","OC","BT","BC","GS"],"range":["triangle-up","circle","triangle-up","circle","square"]},"legend":null},
   "size":{"field":"s","scale":{"domain":["OT","OC","BT","BC","GS"],"range":[95,90,95,90,70]},"legend":null},
   "fill":{"field":"s","scale":{"domain":["OT","OC","BT","BC","GS"],"range":["white","white","black","black","#858585"]},"legend":null},
   "stroke":{"field":"s","scale":{"domain":["OT","OC","BT","BC","GS"],"range":["black","black","black","black","#858585"]},"legend":null}}}
]}
]
}
